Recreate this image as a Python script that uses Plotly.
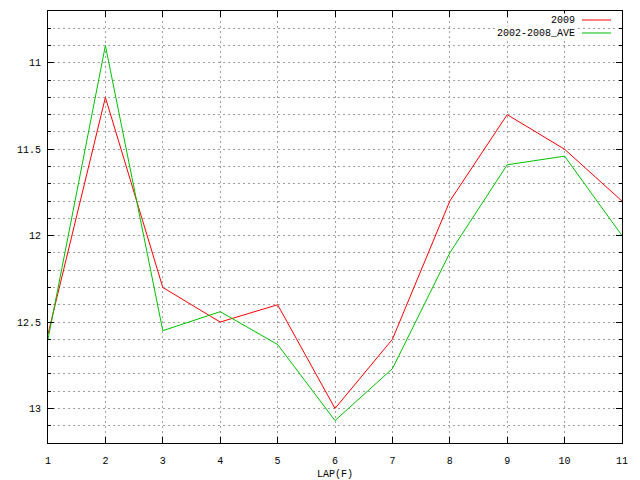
import plotly.graph_objects as go

laps = [1, 2, 3, 4, 5, 6, 7, 8, 9, 10, 11]
y2009 = [12.57, 11.2, 12.3, 12.5, 12.4, 13.0, 12.6, 11.8, 11.3, 11.5, 11.8]
y_ave = [12.6, 10.9, 12.55, 12.44, 12.63, 13.07, 12.77, 12.1, 11.59, 11.54, 12.0]
names = ["2009", "2002-2008_AVE"]
colors = ["#ff0000", "#00c000"]
ytick_vals = [11, 11.5, 12, 12.5, 13]
ytick_text = ["11", "11.5", "12", "12.5", "13"]

FONT = dict(family="Liberation Mono, DejaVu Sans Mono, monospace", size=10, color="black")
GRIDCOL = "#a0a0a0"
GRIDDASH = "2px,3px"

fig = go.Figure()
for name, ys, c in zip(names, [y2009, y_ave], colors):
    fig.add_trace(go.Scatter(x=laps, y=ys, mode="lines", name=name,
                             line=dict(color=c, width=1), showlegend=False))

grid = dict(showgrid=True, gridcolor=GRIDCOL, griddash=GRIDDASH, gridwidth=1)
fig.update_xaxes(range=[1, 11], tickvals=laps, ticks="inside", ticklen=6,
                 tickcolor="black", mirror="ticks", showline=True, linecolor="black",
                 linewidth=1, zeroline=False, automargin=False,
                 title=dict(text="LAP(F)", standoff=4, font=FONT),
                 tickfont=FONT, ticklabelstandoff=8, **grid)
fig.update_yaxes(range=[13.2, 10.7], tickvals=ytick_vals, ticktext=ytick_text,
                 ticks="inside", ticklen=6, tickcolor="black", mirror="ticks",
                 showline=True, linecolor="black", linewidth=1, zeroline=False,
                 automargin=False, tickfont=FONT, ticklabelstandoff=4,
                 minor=dict(dtick=0.1, tick0=10.7, ticks="inside", ticklen=3, tickcolor="black",
                            showgrid=True, gridcolor=GRIDCOL, griddash=GRIDDASH, gridwidth=1),
                 **grid)

# legend (gnuplot style: text right-aligned, sample on right)
leg_y = [20, 33]
for i, (name, c) in enumerate(zip(names, colors)):
    ypap = 1 - (leg_y[i] - 11) / (443 - 11)
    fig.add_annotation(xref="paper", yref="paper", x=(577 - 48) / (622 - 48), y=ypap,
                       text=name, showarrow=False, xanchor="right", yanchor="middle",
                       font=FONT, bgcolor="white")
    fig.add_shape(type="line", xref="paper", yref="paper",
                  x0=(582 - 48) / (622 - 48), x1=(611 - 48) / (622 - 48), y0=ypap, y1=ypap,
                  line=dict(color=c, width=1))

fig.update_layout(width=640, height=480, plot_bgcolor="white", paper_bgcolor="white",
                  margin=dict(l=48, r=18, t=11, b=37, autoexpand=False), font=FONT)
fig.write_html("out.html", config={"displayModeBar": False, "staticPlot": True},
               post_script="document.body.style.margin='0';document.body.style.overflow='hidden';")
